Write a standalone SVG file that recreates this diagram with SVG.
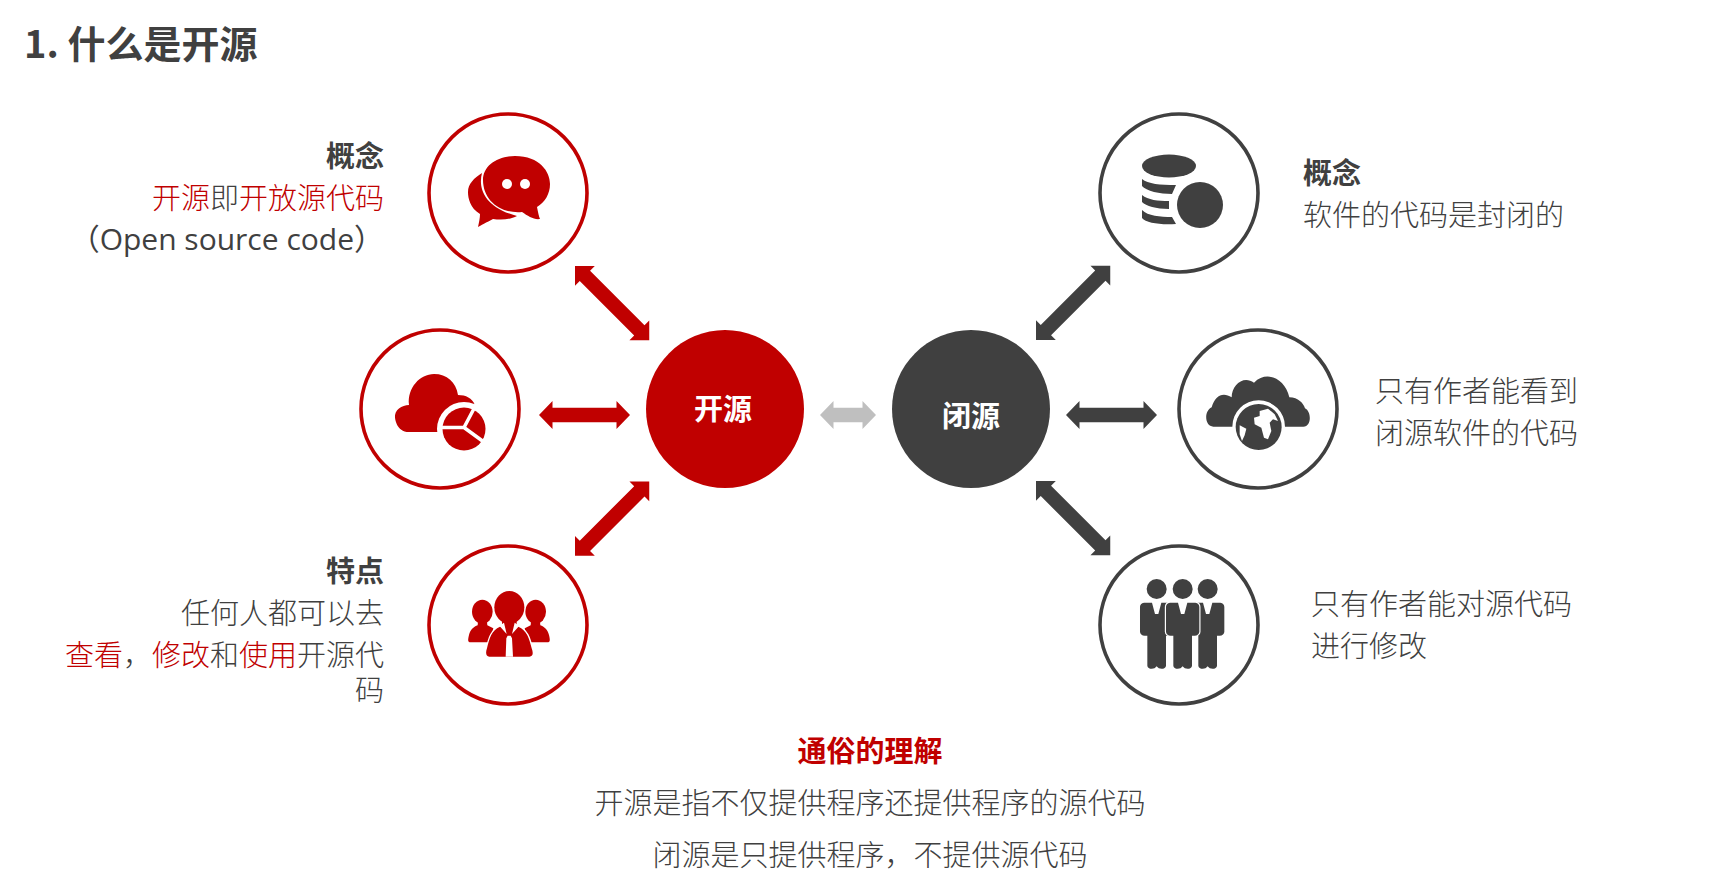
<svg xmlns="http://www.w3.org/2000/svg" width="1734" height="890" viewBox="0 0 1734 890">
<style>
text{font-family:"Noto Sans CJK SC","Noto Sans",sans-serif;font-size:29px;fill:#404040;font-weight:300}
.b{font-weight:700}.r{fill:#c00000}.e{text-anchor:end}.m{text-anchor:middle}.w{fill:#fff}
.cr{fill:#fff;stroke:#c00000;stroke-width:3.6}.cd{fill:#fff;stroke:#404040;stroke-width:3.6}
.gap{stroke:#fff;paint-order:stroke}
</style>
<defs>
<polygon id="arr" points="0,0 14,-14 14,-7.3 91,-7.3 91,-14 105,0 91,14 91,7.3 14,7.3 14,14"/>
<polygon id="arrh" points="0,0 13.5,-14 13.5,-7.3 77.5,-7.3 77.5,-14 91,0 77.5,14 77.5,7.3 13.5,7.3 13.5,14"/>
<polygon id="arrs" points="0,0 13.5,-14 13.5,-7.3 42.5,-7.3 42.5,-14 56,0 42.5,14 42.5,7.3 13.5,7.3 13.5,14"/>
<g id="man"><circle cx="0" cy="-240" r="30"/>
<path d="M-38,-199L-14,-199L-5,-165L5,-165L14,-199L38,-199C46,-199 50,-192 50,-186L50,-112C50,-106 44,-100 36,-100L28,-100L28,-10C28,0 8,4 0,-8C-8,4 -28,0 -28,-10L-28,-100L-36,-100C-44,-100 -50,-106 -50,-112L-50,-186C-50,-192 -46,-199 -38,-199Z"/></g>
</defs>
<rect width="1734" height="890" fill="#fff"/>
<text id="title" x="24" y="58" class="b" style="font-size:38px">1. 什么是开源</text>
<g id="connectors">
<use href="#arr" fill="#c00000" transform="translate(575,266) rotate(45)"/>
<use href="#arrh" fill="#c00000" transform="translate(539,415)"/>
<use href="#arr" fill="#c00000" transform="translate(575,555.7) rotate(-45)"/>
<use href="#arrs" fill="#bfbfbf" transform="translate(820,415)"/>
<use href="#arr" fill="#404040" transform="translate(1036,340) rotate(-45)"/>
<use href="#arrh" fill="#404040" transform="translate(1066,415)"/>
<use href="#arr" fill="#404040" transform="translate(1036,481) rotate(45)"/>
</g>
<g id="open"><circle cx="725" cy="409" r="79" fill="#c00000"/><text x="723" y="420" class="m b w">开源</text></g>
<g id="closed"><circle cx="971" cy="409" r="79" fill="#404040"/><text x="971" y="427" class="m b w">闭源</text></g>
<g id="n1"><circle class="cr" cx="508" cy="193" r="79"/>
<path fill="#c00000" d="M515,156C540,156 550,172 550,184C550,194 545,202 537,207C538,212 539,217 540,219C534,220 528,216 522,212C500,214 483,200 483,180C483,166 497,156 515,156Z"/>
<path fill="#c00000" d="M482,173C478,188 484,207 517,216C510,220 500,220 493,219C487,222 480,226 478,227C479,222 480,218 480,214C470,208 468,198 468,192C468,184 474,178 482,173Z"/>
<circle cx="507" cy="184" r="5" fill="#fff"/><circle cx="525" cy="184" r="5" fill="#fff"/></g>
<g id="n2"><circle class="cr" cx="440" cy="409" r="79"/>
<path fill="#c00000" d="M409,432C395,432 395,415 395,418C394,410 402,405 409,405C407,388 420,374 434,374C447,374 456,382 458,395C466,395 472,398 475,405L440,432Z"/>
<circle cx="464" cy="429" r="27" fill="#fff"/>
<circle cx="464" cy="429" r="21.5" fill="#c00000"/>
<path fill="none" stroke="#fff" stroke-width="3.5" d="M438,427.5L464,427.5L478,401M464,427.5L488,445"/></g>
<g id="n3"><circle class="cr" cx="508" cy="625" r="79"/>
<g transform="translate(410,470) scale(.33333)" fill="#c00000">
<ellipse cx="217" cy="425" rx="31" ry="36"/>
<path d="M182,517C172,517 174,508 177,495C181,478 192,470 203,466L205,445L230,445L232,466L250,475L240,517Z"/>
<ellipse cx="377" cy="425" rx="31" ry="36"/>
<path d="M412,517C422,517 420,508 417,495C413,478 402,470 391,466L389,445L364,445L362,466L344,475L354,517Z"/>
<ellipse class="gap" stroke-width="6" cx="298" cy="412" rx="45" ry="49"/>
<path class="gap" stroke-width="8" d="M238,560C228,560 226,548 231,535C238,505 245,480 270,470L325,470C350,480 358,505 365,535C370,548 370,560 358,560Z"/>
<rect x="276" y="450" width="44" height="24"/>
<path fill="#fff" d="M289,505L293,497L302,497L306,505L309,560L287,560ZM268,467L282,458L290,492ZM328,467L314,458L306,492Z"/>
</g></g>
<g id="n4"><circle class="cd" cx="1179" cy="193" r="79"/>
<g fill="#404040"><ellipse cx="1169" cy="166" rx="27" ry="11.5"/>
<path d="M1142,179C1148,184 1160,185 1176,185L1172,194C1160,194 1146,191 1142,186ZM1142,195C1148,200 1158,201 1169,201L1169,209C1156,209 1146,206 1142,202ZM1142,210C1148,216 1160,217 1172,217L1176,224C1160,225 1146,223 1142,218Z"/>
<circle cx="1200" cy="205" r="23"/></g></g>
<g id="n5"><circle class="cd" cx="1258" cy="409" r="79"/>
<g transform="translate(1040,310) scale(.33333)">
<path fill="#404040" d="M520,350C495,350 490,305 515,292C525,255 550,245 575,262C575,225 610,195 642,218C680,180 735,205 748,262C775,262 790,280 795,295C815,305 815,350 790,350L735,350A79,79 0 0 0 577,350Z"/>
<circle cx="656" cy="351" r="69" fill="#404040"/></g>
<g transform="translate(1228,396) scale(.33333)"><path fill="#fff" d="M95,45L120,38L140,55L150,75L135,70L125,80L130,105L120,130L108,125L100,95L80,85L78,65L95,60ZM35,88L55,98L50,118L42,135L35,115Z"/></g></g>
<g id="n6"><circle class="cd" cx="1179" cy="625" r="79"/>
<g transform="translate(1030,470) scale(.33333)" fill="#404040">
<use href="#man" transform="translate(380,597)"/>
<use href="#man" transform="translate(533,597)"/>
<use href="#man" class="gap" stroke-width="7" transform="translate(458,597)"/>
</g></g>
<g id="t1"><text x="384" y="167" class="e b">概念</text>
<text x="384" y="209" class="e"><tspan class="r">开源</tspan>即<tspan class="r">开放源代码</tspan></text>
<text x="384" y="250" class="e" style="font-family:'Open Sans','Noto Sans CJK SC',sans-serif;font-size:30px;font-weight:400">（Open source code）</text></g>
<g id="t2"><text x="384" y="582" class="e b">特点</text>
<text x="384" y="624" class="e">任何人都可以去</text>
<text x="384" y="666" class="e"><tspan class="r">查看</tspan>，<tspan class="r">修改</tspan>和<tspan class="r">使用</tspan>开源代</text>
<text x="384" y="701" class="e">码</text></g>
<g id="t3"><text x="1303" y="184" class="b">概念</text><text x="1303" y="226">软件的代码是封闭的</text></g>
<g id="t4"><text x="1375" y="402">只有作者能看到</text><text x="1375" y="444">闭源软件的代码</text></g>
<g id="t5"><text x="1311" y="615">只有作者能对源代码</text><text x="1311" y="657">进行修改</text></g>
<g id="t6"><text x="870" y="762" class="m b r">通俗的理解</text>
<text x="870" y="814" class="m">开源是指不仅提供程序还提供程序的源代码</text>
<text x="870" y="866" class="m">闭源是只提供程序，不提供源代码</text></g>
</svg>
